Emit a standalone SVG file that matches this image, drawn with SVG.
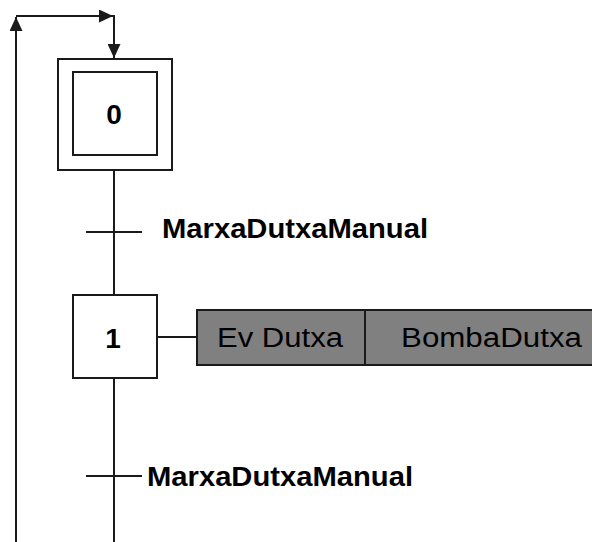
<svg xmlns="http://www.w3.org/2000/svg" width="592" height="542" viewBox="0 0 592 542">
  <style>
    .ln { stroke: #1a1a1a; stroke-width: 2; fill: none; }
    .box { stroke: #1a1a1a; stroke-width: 2; fill: #ffffff; }
    .act { stroke: #1a1a1a; stroke-width: 2; fill: #808080; }
    .num { font-family: "Liberation Sans", Arial, sans-serif; font-size: 28px; font-weight: bold; fill: #000; }
    .tr { font-family: "Liberation Sans", Arial, sans-serif; font-size: 27px; font-weight: bold; fill: #000; }
    .at { font-family: "Liberation Sans", Arial, sans-serif; font-size: 27px; fill: #000; }
  </style>
  <defs>
    <marker id="arr" viewBox="0 0 14 13" refX="14" refY="6.5" markerWidth="14" markerHeight="13" markerUnits="userSpaceOnUse" orient="auto">
      <path d="M0,0 L14,6.5 L0,13 Z" fill="#1a1a1a"/>
    </marker>
  </defs>
  <rect width="592" height="542" fill="#ffffff"/>

  <!-- connectors -->
  <g id="connectors">
    <!-- loop back to the initial step -->
    <line class="ln" x1="16" y1="542" x2="16" y2="17" marker-end="url(#arr)"/>
    <line class="ln" x1="16" y1="16" x2="113" y2="16" marker-end="url(#arr)"/>
    <line class="ln" x1="114" y1="15" x2="114" y2="58" marker-end="url(#arr)"/>
    <!-- step 0 to step 1 -->
    <line class="ln" x1="114" y1="170" x2="114" y2="295"/>
    <!-- step 1 downward -->
    <line class="ln" x1="114" y1="378" x2="114" y2="542"/>
    <!-- step 1 to its actions -->
    <line class="ln" x1="157" y1="337" x2="197" y2="337"/>
  </g>

  <!-- initial step 0 -->
  <g id="step0">
    <rect class="box" x="58" y="59" width="114" height="111"/>
    <rect class="box" x="73" y="72" width="84" height="83"/>
    <text class="num" x="114" y="124" text-anchor="middle">0</text>
  </g>

  <!-- transition 0 -> 1 -->
  <g id="transition1">
    <line class="ln" x1="86" y1="232" x2="142" y2="232"/>
    <text class="tr" x="162" y="238" textLength="266" lengthAdjust="spacingAndGlyphs">MarxaDutxaManual</text>
  </g>

  <!-- step 1 -->
  <g id="step1">
    <rect class="box" x="73" y="295" width="84" height="83"/>
    <text class="num" x="113" y="348" text-anchor="middle">1</text>
  </g>

  <!-- actions of step 1 -->
  <g id="actions1">
    <rect class="act" x="197" y="310" width="400" height="55"/>
    <line class="ln" x1="365" y1="310" x2="365" y2="365"/>
    <text class="at" x="217" y="347" textLength="126" lengthAdjust="spacingAndGlyphs">Ev Dutxa</text>
    <text class="at" x="401" y="347" textLength="181" lengthAdjust="spacingAndGlyphs">BombaDutxa</text>
  </g>

  <!-- transition after step 1 -->
  <g id="transition2">
    <line class="ln" x1="86" y1="476" x2="142" y2="476"/>
    <text class="tr" x="147" y="486" textLength="266" lengthAdjust="spacingAndGlyphs">MarxaDutxaManual</text>
  </g>
</svg>
